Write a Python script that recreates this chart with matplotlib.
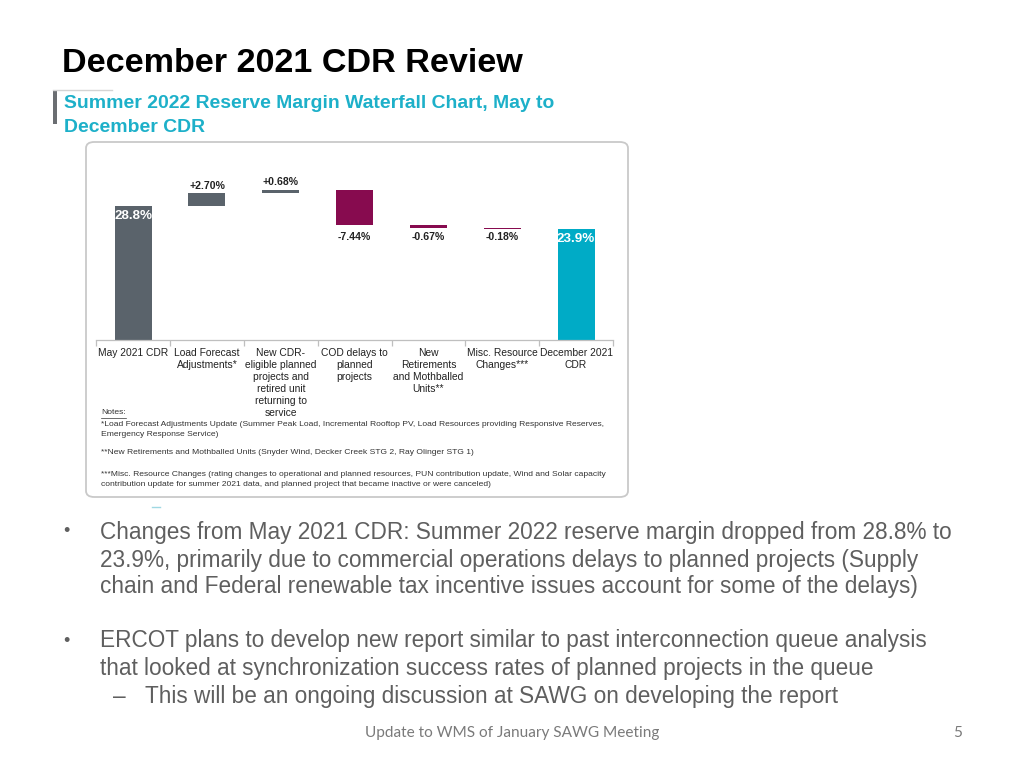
import matplotlib
matplotlib.use("Agg")
import matplotlib.pyplot as plt
import numpy as np
from matplotlib.patches import FancyBboxPatch, Rectangle
from matplotlib.lines import Line2D

# ---------------- data ----------------
categories = ["May 2021 CDR", "Load Forecast\nAdjustments*",
              "New CDR-\neligible planned\nprojects and\nretired unit\nreturning to\nservice",
              "COD delays to\nplanned\nprojects", "New\nRetirements\nand Mothballed\nUnits**",
              "Misc. Resource\nChanges***", "December 2021\nCDR"]
start_value = 28.8
changes = [2.70, 0.68, -7.44, -0.67, -0.18]
end_value = 23.9

title = "December 2021 CDR Review"
subtitle = ["Summer 2022 Reserve Margin Waterfall Chart, May to", "December CDR"]
notes = ["*Load Forecast Adjustments Update (Summer Peak Load, Incremental Rooftop PV, Load Resources providing Responsive Reserves,",
         "Emergency Response Service)",
         "**New Retirements and Mothballed Units (Snyder Wind, Decker Creek STG 2, Ray Olinger STG 1)",
         "***Misc. Resource Changes (rating changes to operational and planned resources, PUN contribution update, Wind and Solar capacity",
         "contribution update for summer 2021 data, and planned project that became inactive or were canceled)"]
bullet1 = ["Changes from May 2021 CDR: Summer 2022 reserve margin dropped from 28.8% to",
           "23.9%, primarily due to commercial operations delays to planned projects (Supply",
           "chain and Federal renewable tax incentive issues account for some of the delays)"]
bullet2 = ["ERCOT plans to develop new report similar to past interconnection queue analysis",
           "that looked at synchronization success rates of planned projects in the queue"]
sub_bullet = "This will be an ongoing discussion at SAWG on developing the report"
footer = "Update to WMS of January SAWG Meeting"
page = "5"

# ---------------- style ----------------
GRAY = "#5a636b"
MAROON = "#870b4f"
TEAL = "#00abc6"
SUBTEAL = "#1db0c9"
TXTGRAY = "#5f5f5f"
SANS = ["Liberation Sans", "DejaVu Sans"]

W, H = 1024, 768
fig = plt.figure(figsize=(W / 100, H / 100), dpi=100)
fig.patch.set_facecolor("white")
renderer = fig.canvas.get_renderer()


def fx(x):
    return x / W


def fy(y):
    return 1 - y / H


def fit_size(s, width_px, **kw):
    t = fig.text(0, 0, s, fontsize=10, **kw)
    w = t.get_window_extent(renderer).width
    t.remove()
    return 10 * width_px / w


def put(x, y, s, size, **kw):
    return fig.text(fx(x), fy(y), s, fontsize=size, va="center", ha=kw.pop("ha", "left"), **kw)


# ---------------- slide header ----------------
ts = fit_size(title, 460, family=SANS, fontweight="bold")
put(62, 63, title, ts, family=SANS, fontweight="bold", color="black")

ss = fit_size(subtitle[0], 491, family=SANS, fontweight="bold")
put(64, 103, subtitle[0], ss, family=SANS, fontweight="bold", color=SUBTEAL)
put(64, 127, subtitle[1], ss, family=SANS, fontweight="bold", color=SUBTEAL)

fig.add_artist(Rectangle((fx(52.5), fy(124)), 4.2 / W, 34.5 / H, transform=fig.transFigure,
                         facecolor="#6b6e72", edgecolor="none"))
fig.add_artist(Line2D([fx(52.5), fx(112)], [fy(89.8), fy(89.8)], transform=fig.transFigure,
                      color="#d4d4d4", lw=1))

# ---------------- chart panel ----------------
fig.add_artist(FancyBboxPatch((fx(86), fy(497)), 542 / W, 355 / H,
                              boxstyle="round,pad=0,rounding_size=0.008",
                              transform=fig.transFigure, facecolor="white",
                              edgecolor="#c9c9c9", lw=1.3, zorder=-5))

px_per_pct = 134.0 / 28.8
ax_left, ax_right, ax_bottom, ax_top = 96.2, 613.0, 340.0, 160.0
ax = fig.add_axes([fx(ax_left), fy(ax_bottom), (ax_right - ax_left) / W, (ax_bottom - ax_top) / H])
ax.set_zorder(2)
ax.set_xlim(-0.5, len(categories) - 0.5)
ax.set_ylim(0, (ax_bottom - ax_top) / px_per_pct)
ax.patch.set_alpha(0)

levels = start_value + np.cumsum(changes)
prev = np.concatenate([[start_value], levels[:-1]])
xs = np.arange(len(categories))

ax.bar(xs[0], start_value, width=0.5, color=GRAY)
for i, (c, p) in enumerate(zip(changes, prev), start=1):
    ax.bar(xs[i], abs(c), bottom=min(p, p + c), width=0.5,
           color=GRAY if c > 0 else MAROON)
ax.bar(xs[-1], end_value, width=0.5, color=TEAL)

lab_size = fit_size("+2.70%", 36, family=SANS, fontweight="bold")
tot_size = fit_size("28.8%", 38, family=SANS, fontweight="bold")
for i, (c, p) in enumerate(zip(changes, prev), start=1):
    if c > 0:
        ax.annotate(f"{c:+.2f}%", (xs[i], p + c), xytext=(0, 2.0), textcoords="offset points",
                    ha="center", va="bottom", fontsize=lab_size, fontweight="bold",
                    family=SANS, color="#222222")
    else:
        ax.annotate(f"{c:+.2f}%", (xs[i], 24.1), xytext=(0, -3), textcoords="offset points",
                    ha="center", va="top", fontsize=lab_size, fontweight="bold",
                    family=SANS, color="#222222")
for xi, v in [(xs[0], start_value), (xs[-1], end_value)]:
    ax.annotate(f"{v:.1f}%", (xi, v), xytext=(0, -3.0), textcoords="offset points",
                ha="center", va="top", fontsize=tot_size, fontweight="bold",
                family=SANS, color="white")

for s in ["top", "left", "right"]:
    ax.spines[s].set_visible(False)
ax.spines["bottom"].set_color("#bfbfbf")
ax.spines["bottom"].set_linewidth(0.9)
ax.set_yticks([])
tick_size = fit_size("May 2021 CDR", 70, family=SANS)
ax.set_xticks(xs)
ax.set_xticklabels(categories, fontsize=tick_size, family=SANS, color="#222222", linespacing=1.25)
ax.set_xticks(np.arange(-0.5, len(categories), 1), minor=True)
ax.tick_params(axis="x", which="major", length=0, pad=5.5)
ax.tick_params(axis="x", which="minor", length=4, color="#bfbfbf", width=0.9)

# ---------------- notes ----------------
ns = fit_size(notes[0], 502, family=SANS)
t = put(101, 413, "Notes:", ns, family=SANS, color="#333333")
wn = t.get_window_extent(renderer).width
fig.add_artist(Line2D([fx(101), fx(101 + wn)], [fy(417.5), fy(417.5)], transform=fig.transFigure,
                      color="#333333", lw=0.5))
for y, line in zip([425, 435, 453, 474, 484], notes):
    put(101, y, line, ns, family=SANS, color="#333333")

fig.add_artist(Line2D([fx(152), fx(160)], [fy(507), fy(507)], transform=fig.transFigure,
                      color="#9fd8e3", lw=1))

# ---------------- bullets ----------------
bs = fit_size(bullet1[0], 856, family=SANS)
put(63, 532, "•", bs * 0.8, family=SANS, color=TXTGRAY)
for y, line in zip([532, 560, 587], bullet1):
    put(100, y, line, bs, family=SANS, color=TXTGRAY)
put(63, 641, "•", bs * 0.8, family=SANS, color=TXTGRAY)
for y, line in zip([641, 668], bullet2):
    put(100, y, line, bs, family=SANS, color=TXTGRAY)
put(113, 696, "–", bs, family=SANS, color=TXTGRAY)
put(145, 696, sub_bullet, bs, family=SANS, color=TXTGRAY)

# ---------------- footer ----------------
fs = fit_size(footer, 294, family=["Lato", "DejaVu Sans"])
put(512, 733, footer, fs, family=["Lato", "DejaVu Sans"], color="#7a7a7a", ha="center")
put(958, 733, page, fs, family=["Lato", "DejaVu Sans"], color="#7a7a7a", ha="center")

fig.savefig("out.png", dpi=100)
